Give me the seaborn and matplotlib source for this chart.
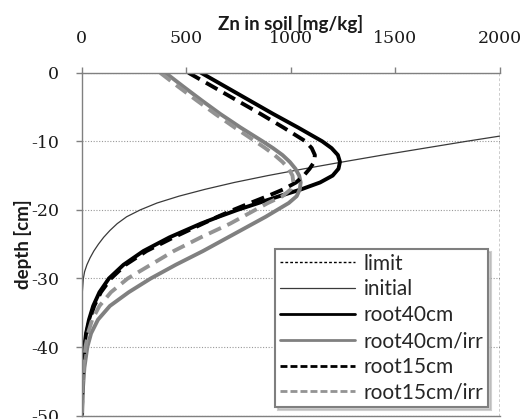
import matplotlib
matplotlib.use("Agg")
import matplotlib.pyplot as plt
import seaborn as sns
import pandas as pd

# ---------------- data ----------------
depth = [0, -2, -4, -6, -8, -10, -11, -12, -13, -14, -15, -16, -17, -18, -19,
         -20, -21, -22, -24, -26, -28, -30, -32, -34, -36, -38, -40, -43, -46, -50]

root40cm = [570, 685, 800, 915, 1035, 1150, 1195, 1225, 1235, 1228, 1200, 1140,
            1050, 945, 845, 745, 655, 570, 420, 295, 200, 130, 85, 55, 35, 21,
            12, 6, 3, 1]
root40cm_irr = [400, 485, 572, 662, 760, 865, 915, 960, 995, 1022, 1040, 1047,
                1043, 1028, 990, 935, 880, 820, 700, 580, 450, 330, 225, 135,
                78, 45, 27, 13, 6, 2]
root15cm = [510, 625, 740, 855, 965, 1070, 1100, 1115, 1112, 1090, 1062, 1025,
            965, 888, 805, 725, 650, 580, 440, 310, 210, 140, 92, 60, 38, 23,
            13, 6, 3, 1]
root15cm_irr = [375, 460, 548, 638, 732, 830, 878, 922, 960, 990, 1008, 1012,
                1000, 960, 890, 830, 770, 710, 570, 440, 330, 220, 140, 85, 50,
                30, 18, 9, 4, 1]

initial_depth = [-6, -8, -9, -10, -11, -12, -13, -14, -15, -16, -17, -18, -19,
                 -20, -21, -22, -23, -24, -25, -26, -27, -28, -29, -30, -32,
                 -35, -40, -50]
initial = [2700, 2250, 2050, 1840, 1640, 1440, 1250, 1065, 890, 730, 590, 465,
           360, 280, 215, 170, 135, 105, 80, 58, 40, 25, 14, 8, 3, 1, 0, 0]

limit_depth = [0, -50]
limit = [2000, 2000]

x_ticks = [0, 500, 1000, 1500, 2000]
y_ticks = [0, -10, -20, -30, -40, -50]

# ---------------- figure ----------------
sns.set_theme(style="white")
plt.rcParams["axes.unicode_minus"] = False

fig = plt.figure(figsize=(5.28, 4.19), dpi=100)
fig.patch.set_facecolor("white")
ax = fig.add_axes([0.1547, 0.0079, 0.7922, 0.8186])

series = [
    ("limit", limit, limit_depth, dict(color="black", lw=1.0, linestyle=(0, (2, 1.5)))),
    ("initial", initial, initial_depth, dict(color="#3a3a3a", lw=0.9, linestyle="-")),
    ("root40cm", root40cm, depth, dict(color="black", lw=2.8, linestyle="-")),
    ("root40cm/irr", root40cm_irr, depth, dict(color="#808080", lw=2.8, linestyle="-")),
    ("root15cm", root15cm, depth, dict(color="black", lw=2.8, linestyle=(0, (3.4, 1.8)))),
    ("root15cm/irr", root15cm_irr, depth, dict(color="#939393", lw=2.8, linestyle=(0, (3.4, 1.8)))),
]

for name, xs, ys, st in series:
    df = pd.DataFrame({"zn": xs, "depth": ys})
    sns.lineplot(data=df, x="zn", y="depth", ax=ax, estimator=None, sort=False,
                 label=name, **st)

ax.set_xlim(0, 2000)
ax.set_ylim(-50, 0)
ax.set_xticks(x_ticks)
ax.set_yticks(y_ticks)
ax.set_xticklabels([str(v) for v in x_ticks])
ax.set_yticklabels([str(v) for v in y_ticks])

ax.yaxis.grid(True, linestyle=(0, (1, 1.5)), color="#999999", lw=0.8)
ax.xaxis.grid(False)

ax.tick_params(axis="x", top=True, bottom=False, labeltop=True, labelbottom=False,
               direction="out", length=4.3, width=1, color="#808080", pad=14,
               labelsize=12.5, labelcolor="#1a1a1a", labelfontfamily="DejaVu Serif")
ax.tick_params(axis="y", left=True, right=False, direction="out", length=4.3,
               width=1, color="#808080", pad=12, labelsize=12.5,
               labelcolor="#1a1a1a", labelfontfamily="DejaVu Serif")

for s in ["left", "top", "bottom"]:
    ax.spines[s].set_color("#808080")
    ax.spines[s].set_linewidth(1.0)
    ax.spines[s].set_visible(True)
ax.spines["right"].set_visible(False)

ax.xaxis.set_label_position("top")
ax.set_xlabel("Zn in soil [mg/kg]", fontfamily="Lato", fontweight="bold",
              fontsize=13.5, color="#1a1a1a")
ax.xaxis.set_label_coords(0.5, 1.142)
ax.xaxis.label.set_va("center")
ax.set_ylabel("depth [cm]", fontfamily="Lato", fontweight="bold",
              fontsize=13.5, color="#1a1a1a")
ax.yaxis.set_label_coords(-0.140, 0.5)
ax.yaxis.label.set_va("center")

leg = ax.legend(loc="upper left", bbox_to_anchor=(0.462, 0.486),
                borderaxespad=0.0,
                prop={"family": "Lato", "size": 15}, handlelength=3.6,
                handletextpad=0.45, borderpad=0.22, labelspacing=0.28,
                fancybox=False, framealpha=1,
                shadow={"color": "#b0b0b0", "alpha": 0.6})
leg.get_frame().set_edgecolor("#7f7f7f")
leg.get_frame().set_linewidth(1.5)
for line in leg.get_lines():
    if line.get_linewidth() > 2:
        line.set_linewidth(2.0)
for line, (name, _, _, st) in zip(leg.get_lines(), series):
    if isinstance(st["linestyle"], tuple) and name != "limit":
        line.set_linestyle((0, (2.5, 1.1)))

fig.savefig("out.png", dpi=100, facecolor="white")
